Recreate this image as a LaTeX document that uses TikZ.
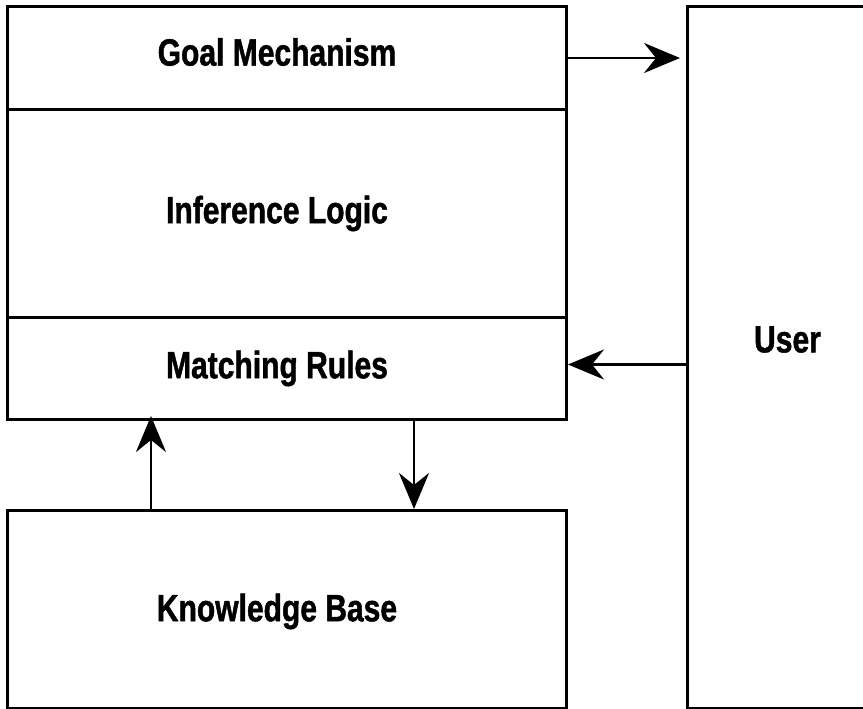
\documentclass[tikz,border=0pt]{standalone}
\usepackage{fontspec}
\setmainfont{Liberation Sans}[FakeStretch=0.79, BoldFeatures={FakeBold=1.2}]
\usetikzlibrary{arrows.meta}
\begin{document}
\begin{tikzpicture}[x=1pt,y=-1pt,
  box/.style={draw, line width=3pt, rectangle, inner sep=0pt, anchor=north west},
  lbl/.style={font=\fontsize{38}{42}\selectfont\bfseries, xshift=-10pt},
  arr/.style={line width=2.8pt, -{Stealth[length=36pt,width=30pt,inset=12pt]}}]
  \useasboundingbox (0,0) rectangle (863,709);
  \clip (0,0) rectangle (863,709);
  % left column: stacked system components
  \node[box, minimum width=559pt, minimum height=103pt,
        label={[lbl,yshift=6pt]center:Goal Mechanism}] (goal) at (6,5) {};
  \node[box, minimum width=559pt, minimum height=208pt,
        label={[lbl]center:Inference Logic}] (infer) at (6,108) {};
  \node[box, minimum width=559pt, minimum height=102pt,
        label={[lbl]center:Matching Rules}] (match) at (6,316) {};
  \node[box, minimum width=559pt, minimum height=198pt,
        label={[lbl,yshift=-2pt]center:Knowledge Base}] (kb) at (6,509) {};
  % the user, running off the right edge
  \node[box, minimum width=220pt, minimum height=702pt,
        label={[lbl,yshift=18pt,xshift=0pt]center:User}] (user) at (686,5) {};
  % connectors
  \draw[arr, shorten >=6pt] (goal.east) -- (user.west |- goal.east);
  \coordinate (m2) at ([yshift=4pt]match.east);
  \draw[arr] (user.west |- m2) -- (m2);
  \coordinate (up) at ([xshift=145pt]kb.north west);
  \draw[arr, shorten >=-5pt] (up) -- (up |- match.south);
  \coordinate (dn) at ([xshift=408pt]match.south west);
  \draw[arr] (dn) -- (dn |- kb.north);
\end{tikzpicture}
\end{document}
